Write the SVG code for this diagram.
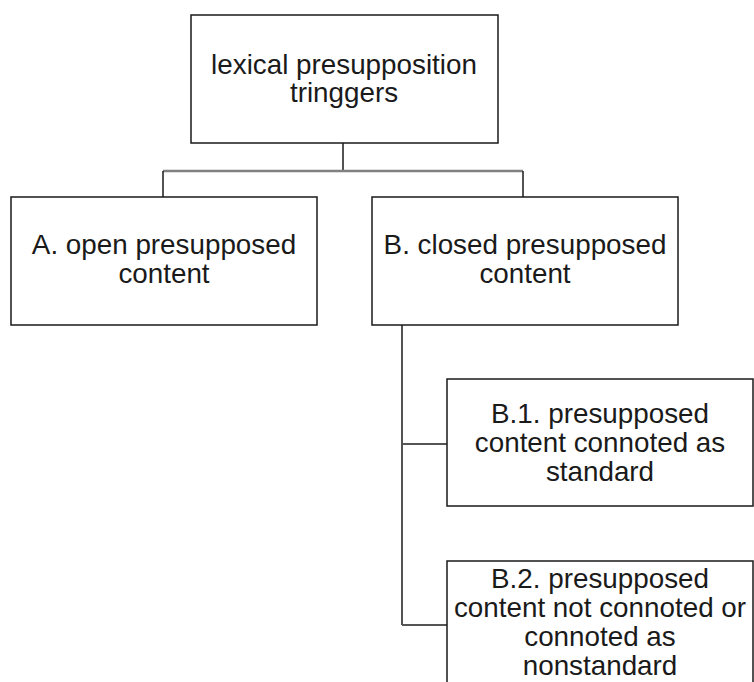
<svg xmlns="http://www.w3.org/2000/svg" width="754" height="682" viewBox="0 0 754 682">
  <style>
    .box { fill: #ffffff; stroke: #1a1a1a; stroke-width: 1.5; }
    .lbl { font-family: "Liberation Sans", Arial, sans-serif; font-size: 27.8px; fill: #1a1a1a; text-anchor: middle; }
    .stem { stroke: #1a1a1a; stroke-width: 1.5; fill: none; }
    .bar { stroke: #808080; stroke-width: 2.5; fill: none; }
    .tick { stroke: #555555; stroke-width: 2; fill: none; }
  </style>
  <rect width="754" height="682" fill="#ffffff"/>

  <g id="connectors">
    <line class="stem" x1="343" y1="143" x2="343" y2="171"/>
    <line class="bar" x1="163" y1="171" x2="523" y2="171"/>
    <line class="stem" x1="163" y1="171" x2="163" y2="197"/>
    <line class="stem" x1="523" y1="171" x2="523" y2="197"/>
    <line class="stem" x1="402" y1="325" x2="402" y2="625"/>
    <line class="tick" x1="402" y1="444" x2="447" y2="444"/>
    <line class="tick" x1="402" y1="625" x2="447" y2="625"/>
  </g>

  <g id="root">
    <rect class="box" x="191" y="15" width="307" height="128"/>
    <text class="lbl" x="344" y="74">lexical presupposition</text>
    <text class="lbl" x="344" y="102">tringgers</text>
  </g>

  <g id="open">
    <rect class="box" x="11" y="197" width="306" height="128"/>
    <text class="lbl" x="164" y="254">A. open presupposed</text>
    <text class="lbl" x="164" y="283">content</text>
  </g>

  <g id="closed">
    <rect class="box" x="372" y="197" width="306" height="128"/>
    <text class="lbl" x="525" y="254">B. closed presupposed</text>
    <text class="lbl" x="525" y="283">content</text>
  </g>

  <g id="standard">
    <rect class="box" x="447" y="379" width="306" height="127"/>
    <text class="lbl" x="600" y="423">B.1. presupposed</text>
    <text class="lbl" x="600" y="452">content connoted as</text>
    <text class="lbl" x="600" y="481">standard</text>
  </g>

  <g id="nonstandard">
    <rect class="box" x="447" y="561" width="306" height="140"/>
    <text class="lbl" x="600" y="588">B.2. presupposed</text>
    <text class="lbl" x="600" y="617">content not connoted or</text>
    <text class="lbl" x="600" y="646">connoted as</text>
    <text class="lbl" x="600" y="675">nonstandard</text>
  </g>
</svg>
